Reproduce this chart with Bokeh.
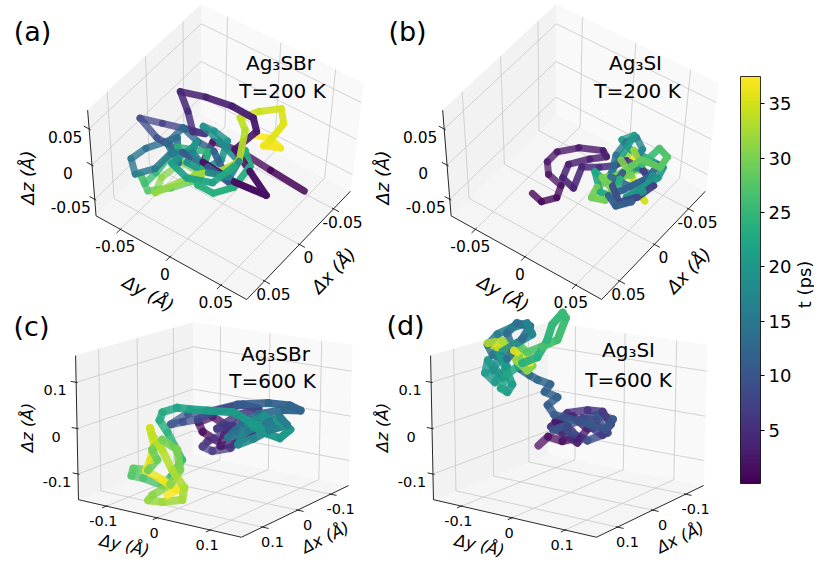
import numpy as np
from bokeh.plotting import figure
from bokeh.models import Range1d, ColumnDataSource, LinearColorMapper, ColorBar, FixedTicker
from bokeh.palettes import Viridis256
from bokeh.transform import transform
from bokeh.core.properties import value
from bokeh.embed import file_html
from bokeh.resources import INLINE

# ---------------- data (displacements in Angstrom, time in ps) ----------------
a_t = [0.1, 0.4, 0.7, 1.0, 1.3, 1.6, 1.9, 2.2, 2.5, 2.8, 3.1, 3.4, 3.7, 4.0,
       4.6, 5.3, 6.0, 6.7, 7.4, 8.1, 8.8, 9.6, 10.4, 11.2, 12.0, 12.8,
       13.0, 13.2, 13.4,
       13.6, 14.1, 14.6, 15.1, 15.6, 16.1, 16.6, 17.1, 17.6, 18.1, 18.6, 19.1,
       19.25, 19.4, 19.55, 19.7, 19.8, 19.9,
       20.0, 20.8, 21.6, 22.4, 23.2,
       23.35, 23.5, 23.65, 23.8, 23.9,
       24.0, 24.8, 25.6, 26.4,
       27.2, 27.8, 28.4, 29.0, 29.6, 30.2, 30.8, 31.4, 32.0, 32.5, 33.0,
       33.6, 34.1, 34.6, 35.1, 35.6, 36.1, 36.6, 37.0, 37.3, 37.5]
a_x = [-0.016, -0.019, -0.022, -0.018, 0.019, 0.022, 0.019, 0.005, -0.008, -0.021, -0.025, -0.026, -0.022, -0.015,
       -0.007, -0.004, -0.008, -0.003, 0.003, 0.009, 0.019, 0.020, 0.021, 0.025, 0.004, 0.003,
       -0.003, 0.019, 0.031,
       0.009, 0.034, 0.041, 0.053, 0.048, 0.026, 0.015, 0.026, 0.020, 0.001, -0.008, -0.014,
       -0.015, -0.012, 0.008, 0.027, 0.027, 0.004,
       0.010, 0.035, 0.041, 0.033, 0.008,
       -0.012, 0.000, 0.027, 0.042, 0.042,
       0.007, 0.018, 0.039, 0.054,
       0.042, 0.053, 0.039, 0.023, 0.011, 0.010, 0.034, 0.051, 0.033, 0.016, 0.001,
       -0.017, -0.026, -0.041, -0.054, -0.041, -0.020, -0.018, -0.024, -0.028, -0.024]
a_y = [0.066, 0.032, 0.000, -0.023, -0.007, 0.025, 0.053, 0.028, 0.005, 0.016, 0.010, -0.011, -0.033, -0.053,
       -0.040, -0.033, -0.024, -0.040, -0.058, -0.076, -0.052, -0.026, -0.001, 0.022, -0.007, -0.023,
       -0.042, -0.042, -0.022,
       -0.039, -0.052, -0.062, -0.049, -0.033, -0.033, -0.020, 0.003, 0.019, 0.015, -0.010, -0.030,
       -0.020, -0.005, 0.003, -0.002, -0.017, -0.024,
       -0.023, -0.026, -0.007, 0.012, 0.015,
       0.012, 0.025, 0.028, 0.019, 0.004,
       -0.010, -0.033, -0.039, -0.039,
       -0.052, -0.037, -0.024, -0.015, -0.018, -0.034, -0.037, -0.031, -0.003, 0.011, 0.015,
       0.008, -0.003, 0.005, 0.017, 0.028, 0.030, 0.025, 0.037, 0.024, 0.014]
a_z = [-0.020, -0.020, -0.020, -0.020, 0.000, 0.000, 0.000, 0.000, 0.000, 0.020, 0.030, 0.030, 0.030, 0.030,
       0.020, 0.000, 0.000, 0.000, 0.000, 0.000, 0.000, 0.000, 0.000, 0.000, 0.000, 0.000,
       0.000, 0.000, 0.000,
       0.000, 0.000, -0.015, -0.015, 0.000, 0.000, 0.000, 0.000, 0.000, 0.000, 0.000, 0.000,
       0.000, 0.000, 0.000, 0.000, 0.000, 0.000,
       0.000, 0.000, 0.000, 0.000, 0.000,
       0.000, 0.000, 0.000, 0.000, 0.000,
       0.000, 0.000, -0.020, -0.020,
       -0.030, -0.030, -0.030, -0.030, -0.030, -0.030, -0.030, -0.030, 0.000, 0.000, 0.000,
       0.020, 0.020, 0.020, 0.020, 0.020, 0.020, 0.010, 0.010, 0.010, 0.010]

b_t = [0.1, 0.4, 0.7, 1.0, 1.3, 1.6, 1.9, 2.2, 2.5, 2.8, 3.1, 3.4, 3.7, 4.0, 4.3, 4.6, 5.0,
       5.6, 6.3, 7.0, 7.7, 8.4, 9.1, 9.8, 10.5, 11.2,
       11.4, 11.6, 11.8, 11.9,
       12.0, 12.8, 13.6, 14.4, 15.2, 16.0, 16.8, 17.6, 18.4, 19.2, 20.0,
       20.15, 20.3, 20.45, 20.6, 20.75, 20.9,
       21.0, 21.9, 22.8, 23.7, 24.6, 25.5, 26.4, 27.3, 28.2, 29.1,
       29.25, 29.4, 29.55, 29.7, 29.85,
       30.0, 30.9, 31.8, 32.7, 33.6, 34.5, 35.4, 36.3,
       36.5, 36.7, 36.9,
       37.2]
b_x = [0.047, 0.050, 0.039, 0.026, 0.022, 0.011, 0.010, -0.004, -0.013, -0.009, 0.001, 0.016, 0.031, 0.035, 0.012, 0.004, -0.004,
       -0.015, -0.014, -0.005, 0.013, 0.026, 0.015, -0.002, -0.023, -0.026,
       0.020, 0.031, 0.025, 0.013,
       -0.009, 0.007, 0.007, -0.015, -0.032, -0.041, -0.033, -0.013, -0.014, 0.005, 0.018,
       -0.014, -0.026, -0.027, -0.027, -0.032, -0.042,
       0.014, 0.010, 0.026, 0.023, 0.005, -0.019, -0.028, -0.024, -0.011, -0.023,
       0.023, 0.035, 0.031, 0.018, 0.012,
       -0.004, -0.013, -0.028, -0.014, -0.007, -0.003, 0.000, -0.005,
       -0.006, -0.016, -0.018,
       -0.010]
b_y = [-0.012, -0.001, 0.006, 0.001, -0.014, -0.023, -0.014, -0.003, 0.014, 0.020, 0.011, 0.001, 0.006, 0.019, 0.011, 0.022, 0.030,
       0.035, 0.051, 0.067, 0.064, 0.056, 0.042, 0.040, 0.044, 0.057,
       0.063, 0.056, 0.045, 0.051,
       0.059, 0.053, 0.035, 0.025, 0.023, 0.027, 0.038, 0.041, 0.060, 0.064, 0.057,
       0.065, 0.062, 0.049, 0.031, 0.019, 0.024,
       0.035, 0.022, 0.038, 0.051, 0.042, 0.047, 0.056, 0.066, 0.068, 0.044,
       0.033, 0.036, 0.046, 0.044, 0.030,
       0.047, 0.031, 0.033, 0.051, 0.043, 0.058, 0.063, 0.051,
       0.044, 0.045, 0.038,
       0.044]
b_z = [-0.020, -0.020, -0.020, -0.020, -0.020, -0.020, 0.000, 0.000, 0.000, 0.000, 0.000, 0.000, 0.000, 0.000, 0.000, 0.000, 0.000,
       0.000, 0.000, 0.000, 0.000, 0.000, 0.000, 0.000, 0.000, 0.000,
       0.000, 0.000, 0.000, 0.000,
       0.000, 0.000, 0.000, 0.000, 0.000, 0.000, 0.000, 0.000, 0.000, 0.000, 0.000,
       0.000, 0.000, 0.000, 0.000, 0.000, 0.000,
       0.000, 0.000, 0.000, 0.000, 0.000, 0.000, 0.020, 0.020, 0.020, 0.000,
       0.000, 0.000, 0.000, 0.000, 0.000,
       0.000, 0.000, 0.000, 0.000, 0.000, -0.020, -0.020, -0.020,
       0.000, 0.000, 0.000,
       0.000]

c_t = [0.1, 0.6, 1.1, 1.6, 2.1, 2.6, 3.1, 3.6, 4.1, 4.6, 5.1, 5.6,
       5.68, 5.76, 5.84, 5.9, 5.95,
       6.0, 6.5, 7.0, 7.5, 8.0, 8.5, 9.0, 9.5, 10.0, 10.5, 11.0, 11.5, 12.0, 12.5, 13.0, 13.4,
       13.8, 14.3, 14.8, 15.3, 15.8, 16.3, 16.8, 17.3, 17.8, 18.3, 18.8, 19.3, 19.8,
       19.9, 20.0, 20.1, 20.2, 20.35,
       20.5, 21.1, 21.7, 22.3, 22.9, 23.5, 24.1, 24.7, 25.3, 25.9, 26.5,
       27.1, 27.5, 27.9, 28.3, 28.7, 29.1, 29.5, 29.9, 30.3, 30.7, 31.1, 31.5, 31.9, 32.3, 32.7,
       33.2, 33.7, 34.2, 34.7, 35.2, 35.7, 36.2, 36.7, 37.1, 37.5]
c_x = [-0.063, -0.063, -0.063, -0.063, -0.063, -0.063, -0.063, -0.063, -0.063, -0.063, -0.063, -0.063,
       -0.063, -0.063, -0.063, -0.063, -0.063,
       -0.039, -0.039, -0.039, -0.039, -0.039, -0.039, -0.039, -0.039, -0.039, -0.039, -0.039, -0.039, -0.039, -0.039, -0.039, -0.039,
       -0.016, -0.016, -0.016, -0.016, -0.016, -0.016, -0.016, -0.016, -0.016, -0.016, -0.016, -0.016, -0.016,
       -0.016, -0.016, -0.016, -0.016, -0.016,
       0.024, 0.024, 0.024, 0.024, 0.024, 0.024, 0.024, 0.024, 0.024, 0.024, 0.024,
       0.047, 0.047, 0.047, 0.047, 0.047, 0.047, 0.047, 0.047, 0.047, 0.047, 0.047, 0.047, 0.047, 0.047, 0.047,
       0.047, 0.047, 0.047, 0.047, 0.047, 0.047, 0.047, 0.047, 0.047, 0.047]
c_y = [-0.040, -0.070, -0.079, -0.050, -0.020, -0.034, 0.000, 0.029, 0.039, 0.010, -0.020, -0.060,
       -0.070, -0.050, -0.014, 0.010, -0.010,
       -0.024, 0.016, 0.056, 0.026, -0.024, -0.063, -0.093, -0.118, -0.083, -0.033, 0.016, 0.075, 0.115, 0.135, 0.105, 0.056,
       0.042, 0.013, 0.052, 0.086, 0.112, 0.125, 0.092, 0.062, 0.033, 0.052, 0.082, 0.102, 0.062,
       0.086, 0.112, 0.131, 0.106, 0.072,
       0.050, 0.001, -0.033, -0.059, -0.088, -0.094, -0.078, -0.065, -0.049, -0.069, -0.088,
       -0.111, -0.135, -0.131, -0.101, -0.082, -0.092, -0.072, -0.042, -0.036, -0.056, -0.092, -0.101, -0.072, -0.032, -0.028,
       -0.052, -0.072, -0.092, -0.096, -0.088, -0.096, -0.105, -0.072, -0.042, -0.062]
c_z = [-0.070, -0.055, -0.035, -0.016, -0.031, -0.080, -0.065, -0.035, -0.010, -0.008, -0.047, -0.075,
       -0.089, -0.095, -0.080, -0.047, -0.029,
       -0.031, 0.008, 0.030, 0.033, 0.010, -0.018, -0.030, -0.041, -0.009, 0.007, 0.031, 0.046, 0.049, 0.042, 0.037, 0.018,
       0.001, -0.036, -0.013, 0.011, 0.029, 0.015, -0.003, -0.028, -0.047, 0.003, 0.026, 0.015, -0.001,
       -0.011, -0.016, 0.007, 0.023, 0.001,
       0.039, 0.033, 0.029, 0.027, 0.011, -0.008, -0.032, -0.058, -0.087, -0.126, -0.154,
       -0.135, -0.135, -0.118, -0.115, -0.087, -0.067, -0.040, -0.055, -0.099, -0.137, -0.169, -0.183, -0.180, -0.165, -0.137,
       -0.103, -0.062, -0.034, -0.019, -0.055, -0.091, -0.116, -0.130, -0.145, -0.162]

d_t = [0.1, 0.5, 0.9, 1.3, 1.7, 2.1, 2.5, 2.9, 3.3, 3.7, 4.1,
       4.8, 5.3, 5.8, 6.3, 6.8, 7.3, 7.8, 8.3, 8.8, 9.3, 9.8, 10.3,
       10.4, 10.5, 10.55, 10.6,
       10.7, 11.1, 11.5, 11.9, 12.3, 12.7, 13.1, 13.5,
       13.6, 13.7, 13.8, 13.85,
       13.9, 14.5, 15.1, 15.7, 16.3, 16.9, 17.5, 18.1, 18.7, 19.3, 19.9,
       20.0, 20.1, 20.2, 20.3, 20.4,
       20.5, 21.1, 21.7, 22.3, 22.9, 23.5, 24.1, 24.7, 25.3, 25.9, 26.5, 27.1,
       27.7, 28.6, 29.5, 30.4, 31.3, 32.2, 33.1, 34.0, 34.9, 35.8, 36.7, 37.5]
d_x = [-0.047, -0.047, -0.047, -0.047, -0.047, -0.047, -0.047, -0.047, -0.047, -0.047, -0.047,
       -0.047, -0.047, -0.047, -0.047, -0.047, -0.047, -0.047, -0.047, -0.047, -0.047, -0.047, -0.047,
       -0.047, -0.047, -0.047, -0.047,
       0.000, 0.000, 0.000, 0.000, 0.000, 0.000, 0.000, 0.000,
       0.031, 0.031, 0.031, 0.031,
       0.031, 0.031, 0.031, 0.031, 0.031, 0.031, 0.031, 0.031, 0.031, 0.031, 0.031,
       0.031, 0.031, 0.031, 0.031, 0.031,
       0.031, 0.031, 0.031, 0.031, 0.031, 0.031, 0.031, 0.031, 0.031, 0.031, 0.031, 0.031,
       0.031, 0.031, 0.031, 0.031, 0.031, 0.031, 0.031, 0.031, 0.031, 0.031, 0.031, 0.031]
d_y = [-0.098, -0.078, -0.049, -0.019, -0.039, -0.063, -0.029, 0.001, -0.019, -0.049, -0.072,
       -0.039, 0.001, 0.030, 0.046, 0.030, 0.011, -0.009, 0.020, 0.040, 0.001, -0.039, -0.068,
       0.020, 0.050, 0.036, 0.011,
       -0.032, -0.045, -0.026, -0.051, -0.040, -0.065, -0.081, -0.101,
       -0.103, -0.083, -0.057, -0.073,
       -0.103, -0.132, -0.142, -0.122, -0.093, -0.063, -0.053, -0.083, -0.112, -0.132, -0.112,
       -0.142, -0.148, -0.128, -0.103, -0.122,
       -0.093, -0.103, -0.116, -0.103, -0.073, -0.043, -0.024, -0.014, 0.006, 0.012, -0.004, -0.033,
       -0.063, -0.083, -0.073, -0.053, -0.063, -0.083, -0.112, -0.142, -0.122, -0.089, -0.063, -0.057]
d_z = [-0.088, -0.063, -0.067, -0.053, -0.031, -0.025, -0.006, -0.028, -0.064, -0.049, -0.039,
       -0.001, 0.013, 0.016, -0.009, -0.036, -0.025, -0.007, -0.005, -0.029, -0.055, -0.042, -0.045,
       0.007, 0.003, -0.023, -0.018,
       0.010, 0.029, 0.050, 0.057, 0.076, 0.081, 0.088, 0.099,
       0.184, 0.209, 0.207, 0.176,
       0.128, 0.132, 0.152, 0.179, 0.198, 0.212, 0.190, 0.166, 0.143, 0.098, 0.085,
       0.118, 0.089, 0.072, 0.110, 0.145,
       0.074, 0.055, 0.061, 0.094, 0.124, 0.142, 0.181, 0.217, 0.245, 0.235, 0.186, 0.167,
       0.149, 0.166, 0.135, 0.122, 0.110, 0.128, 0.166, 0.156, 0.150, 0.149, 0.142, 0.128]

tags = ["(a)", "(b)", "(c)", "(d)"]
materials = ["Ag₃SBr", "Ag₃SI", "Ag₃SBr", "Ag₃SI"]
temperatures = ["T=200 K", "T=200 K", "T=600 K", "T=600 K"]
ticks_top = [-0.05, 0.0, 0.05]
ticklabels_top = ["-0.05", "0", "0.05"]
ticks_bot = [-0.1, 0.0, 0.1]
ticklabels_bot = ["-0.1", "0", "0.1"]
lim_top = (-0.075, 0.075)
lim_bot = (-0.157, 0.157)
cbar_ticks = [5, 10, 15, 20, 25, 30, 35]
t_low, t_high = 0.1, 37.5
axis_names = ["Δx (Å)", "Δy (Å)", "Δz (Å)"]

# ---------------- layout (screen px of the cube corners) ----------------
FONT = value("DejaVu Sans")
W_PX, H_PX = 814, 561
CUBE = [(1, -1, -1), (1, 1, -1), (-1, 1, -1), (-1, -1, -1), (1, -1, 1), (-1, -1, 1), (-1, 1, 1)]
TOP_PX = [(94, 215), (249, 297), (347, 197), (202, 110), (86, 112), (202, 6), (363, 78)]
BOT_PX = [(78, 500), (241, 536), (348, 486), (192.7, 453), (75, 355), (192.7, 322.3), (351.7, 344.3)]


def camera(px, shift):
    W = np.array(CUBE, float)
    S = np.array(px, float) + np.array([shift, 0.0])
    c = S.mean(axis=0)
    s = S.std()
    Sn = (S - c) / s
    rows = []
    for (X, Y, Z), (u, v) in zip(W, Sn):
        P = [X, Y, Z, 1.0]
        rows.append(P + [0.0] * 4 + [-u * q for q in P])
        rows.append([0.0] * 4 + P + [-v * q for q in P])
    M = np.linalg.svd(np.array(rows))[2][-1].reshape(3, 4)
    if M[2, 3] < 0:
        M = -M

    def proj(X, Y, Z):
        X, Y, Z = np.broadcast_arrays(np.atleast_1d(np.asarray(X, float)),
                                      np.atleast_1d(np.asarray(Y, float)),
                                      np.atleast_1d(np.asarray(Z, float)))
        h = M @ np.vstack([X.ravel(), Y.ravel(), Z.ravel(), np.ones(X.size)])
        return c[0] + s * h[0] / h[2], c[1] + s * h[1] / h[2], h[2]
    return proj


def norm(v, lim):
    return (np.asarray(v, float) - (lim[0] + lim[1]) / 2.0) / ((lim[1] - lim[0]) / 2.0)


panels = [
    dict(t=a_t, x=a_x, y=a_y, z=a_z, lim=lim_top, px=TOP_PX, shift=0, ticks=ticks_top, tl=ticklabels_top,
         tfs="15.5px", tag_xy=(32, 31), title_xy=[(280, 62), (282, 90)],
         lab=dict(x=(333, 270), y=(148, 293), z=(27, 177)), lfs="18px",
         off=dict(x=(9, 13), y=(-5, 17), z=(-24, 8)), lw=7),
    dict(t=b_t, x=b_x, y=b_y, z=b_z, lim=lim_top, px=TOP_PX, shift=355, ticks=ticks_top, tl=ticklabels_top,
         tfs="15.5px", tag_xy=(407, 31), title_xy=[(635, 62), (637, 90)],
         lab=dict(x=(688, 270), y=(503, 293), z=(382, 177)), lfs="18px",
         off=dict(x=(9, 13), y=(-5, 17), z=(-24, 8)), lw=7),
    dict(t=c_t, x=c_x, y=c_y, z=c_z, lim=lim_bot, px=BOT_PX, shift=0, ticks=ticks_bot, tl=ticklabels_bot,
         tfs="14.5px", tag_xy=(31, 326), title_xy=[(275, 353), (272, 380)],
         lab=dict(x=(325, 537), y=(124, 545), z=(27, 427)), lfs="16.5px",
         off=dict(x=(10, 15), y=(-3, 15), z=(-21, 8)), lw=8),
    dict(t=d_t, x=d_x, y=d_y, z=d_z, lim=lim_bot, px=BOT_PX, shift=355, ticks=ticks_bot, tl=ticklabels_bot,
         tfs="14.5px", tag_xy=(405, 325), title_xy=[(628, 349), (628, 379)],
         lab=dict(x=(680, 537), y=(479, 545), z=(382, 427)), lfs="16.5px",
         off=dict(x=(10, 15), y=(-3, 15), z=(-21, 8)), lw=8),
]

p = figure(width=W_PX, height=H_PX, x_range=Range1d(0, W_PX), y_range=Range1d(H_PX, 0),
           x_axis_type=None, y_axis_type=None, toolbar_location=None,
           output_backend="svg", min_border=0, outline_line_color=None)
p.background_fill_color = "white"
p.border_fill_color = "white"

mapper = LinearColorMapper(palette=Viridis256, low=t_low, high=t_high)

for i, P in enumerate(panels):
    proj = camera(P["px"], P["shift"])
    lim = P["lim"]
    tn = list(norm(P["ticks"], lim))

    # panes
    faces = [([(1, -1, -1), (1, 1, -1), (-1, 1, -1), (-1, -1, -1)], "#f5f5f5"),
             ([(1, -1, -1), (-1, -1, -1), (-1, -1, 1), (1, -1, 1)], "#f2f2f2"),
             ([(-1, -1, -1), (-1, 1, -1), (-1, 1, 1), (-1, -1, 1)], "#f9f9f9")]
    xs, ys, cols = [], [], []
    for pts, col in faces:
        a = np.array(pts, float)
        u, v, _ = proj(a[:, 0], a[:, 1], a[:, 2])
        xs.append(list(u)); ys.append(list(v)); cols.append(col)
    p.patches(xs, ys, fill_color=cols, line_color=cols, line_width=0.6)

    # grid lines
    seg = []
    for q in tn:
        seg += [((q, -1, -1), (q, 1, -1)), ((-1, q, -1), (1, q, -1)),
                ((q, -1, -1), (q, -1, 1)), ((-1, -1, q), (1, -1, q)),
                ((-1, q, -1), (-1, q, 1)), ((-1, -1, q), (-1, 1, q))]
    g0 = np.array([s[0] for s in seg]); g1 = np.array([s[1] for s in seg])
    u0, v0, _ = proj(g0[:, 0], g0[:, 1], g0[:, 2]); u1, v1, _ = proj(g1[:, 0], g1[:, 1], g1[:, 2])
    p.segment(u0, v0, u1, v1, line_color="#c8c8c8", line_width=0.8)

    # axis lines
    ax = [((1, -1, -1), (1, -1, 1)), ((1, -1, -1), (1, 1, -1)), ((1, 1, -1), (-1, 1, -1))]
    a0 = np.array([s[0] for s in ax]); a1 = np.array([s[1] for s in ax])
    u0, v0, _ = proj(a0[:, 0], a0[:, 1], a0[:, 2]); u1, v1, _ = proj(a1[:, 0], a1[:, 1], a1[:, 2])
    p.segment(u0, v0, u1, v1, line_color="#111111", line_width=0.9)

    # tick marks
    tk0, tk1 = [], []
    for q in tn:
        tk0 += [(q, 0.98, -1), (0.98, q, -1), (1, -0.98, q)]
        tk1 += [(q, 1.07, -1), (1.07, q, -1), (1, -1.07, q)]
    tk0 = np.array(tk0); tk1 = np.array(tk1)
    u0, v0, _ = proj(tk0[:, 0], tk0[:, 1], tk0[:, 2]); u1, v1, _ = proj(tk1[:, 0], tk1[:, 1], tk1[:, 2])
    p.segment(u0, v0, u1, v1, line_color="#111111", line_width=0.9)

    # tick labels
    qn = np.array(tn)
    ones = np.ones_like(qn)
    ux, vx, _ = proj(qn, ones, -ones)
    uy, vy, _ = proj(ones, qn, -ones)
    uz, vz, _ = proj(ones, -ones, qn)
    lx, ly, lt = [], [], []
    for (uu, vv, key) in [(ux, vx, "x"), (uy, vy, "y"), (uz, vz, "z")]:
        ox, oy = P["off"][key]
        lx += list(uu + ox); ly += list(vv + oy); lt += P["tl"]
    p.text(lx, ly, text=lt, text_font=FONT, text_font_size=P["tfs"], text_align="center",
           text_baseline="middle", text_color="black")

    # axis labels
    bx, by, _ = proj([1, -1], [1, 1], [-1, -1])
    cx, cy, _ = proj([1, 1], [-1, 1], [-1, -1])
    ang_x = float(np.arctan2(-(by[1] - by[0]), bx[1] - bx[0]))
    ang_y = float(np.arctan2(-(cy[1] - cy[0]), cx[1] - cx[0]))
    for key, ang, name in [("x", ang_x, axis_names[0]), ("y", ang_y, axis_names[1]), ("z", np.pi / 2, axis_names[2])]:
        p.text([P["lab"][key][0]], [P["lab"][key][1]], text=[name], angle=ang, text_font=FONT,
               text_font_size=P["lfs"], text_font_style="italic", text_align="center",
               text_baseline="middle", text_color="black")

    # trajectory, coloured by time, drawn far-to-near
    X = norm(P["x"], lim); Y = norm(P["y"], lim); Z = norm(P["z"], lim)
    u, v, w = proj(X, Y, Z)
    t = np.asarray(P["t"], float)
    wm = 0.5 * (w[:-1] + w[1:])
    depth = (wm - wm.min()) / (wm.max() - wm.min())
    order = np.argsort(-depth)
    src = ColumnDataSource(dict(x0=u[:-1][order], y0=v[:-1][order], x1=u[1:][order], y1=v[1:][order],
                                t=(0.5 * (t[:-1] + t[1:]))[order], alpha=(1.0 - 0.3 * depth)[order]))
    p.segment("x0", "y0", "x1", "y1", source=src, line_color=transform("t", mapper),
              line_alpha="alpha", line_width=P["lw"], line_cap="round")

    # titles
    p.text([P["title_xy"][0][0], P["title_xy"][1][0]], [P["title_xy"][0][1], P["title_xy"][1][1]],
           text=[materials[i], temperatures[i]], text_font=FONT, text_font_size="20px",
           text_align="center", text_baseline="middle", text_color="black")
    p.text([P["tag_xy"][0]], [P["tag_xy"][1]], text=[tags[i]], text_font=FONT, text_font_size="27px",
           text_align="center", text_baseline="middle", text_color="black")

cb = ColorBar(color_mapper=mapper, ticker=FixedTicker(ticks=cbar_ticks), orientation="vertical",
              width=20, height=407, location=(740, H_PX - 483), padding=0, margin=0,
              bar_line_color="black", bar_line_width=0.8,
              major_tick_line_color="black", major_tick_in=0, major_tick_out=4,
              minor_tick_line_color=None,
              major_label_text_font="DejaVu Sans", major_label_text_font_size="18px",
              major_label_text_color="black", label_standoff=4,
              background_fill_alpha=0, border_line_color=None)
p.add_layout(cb)
p.text([804], [284], text=["t (ps)"], angle=np.pi / 2, text_font=FONT, text_font_size="18px",
       text_align="center", text_baseline="middle", text_color="black")

open("out.html", "w").write(file_html(p, INLINE))
